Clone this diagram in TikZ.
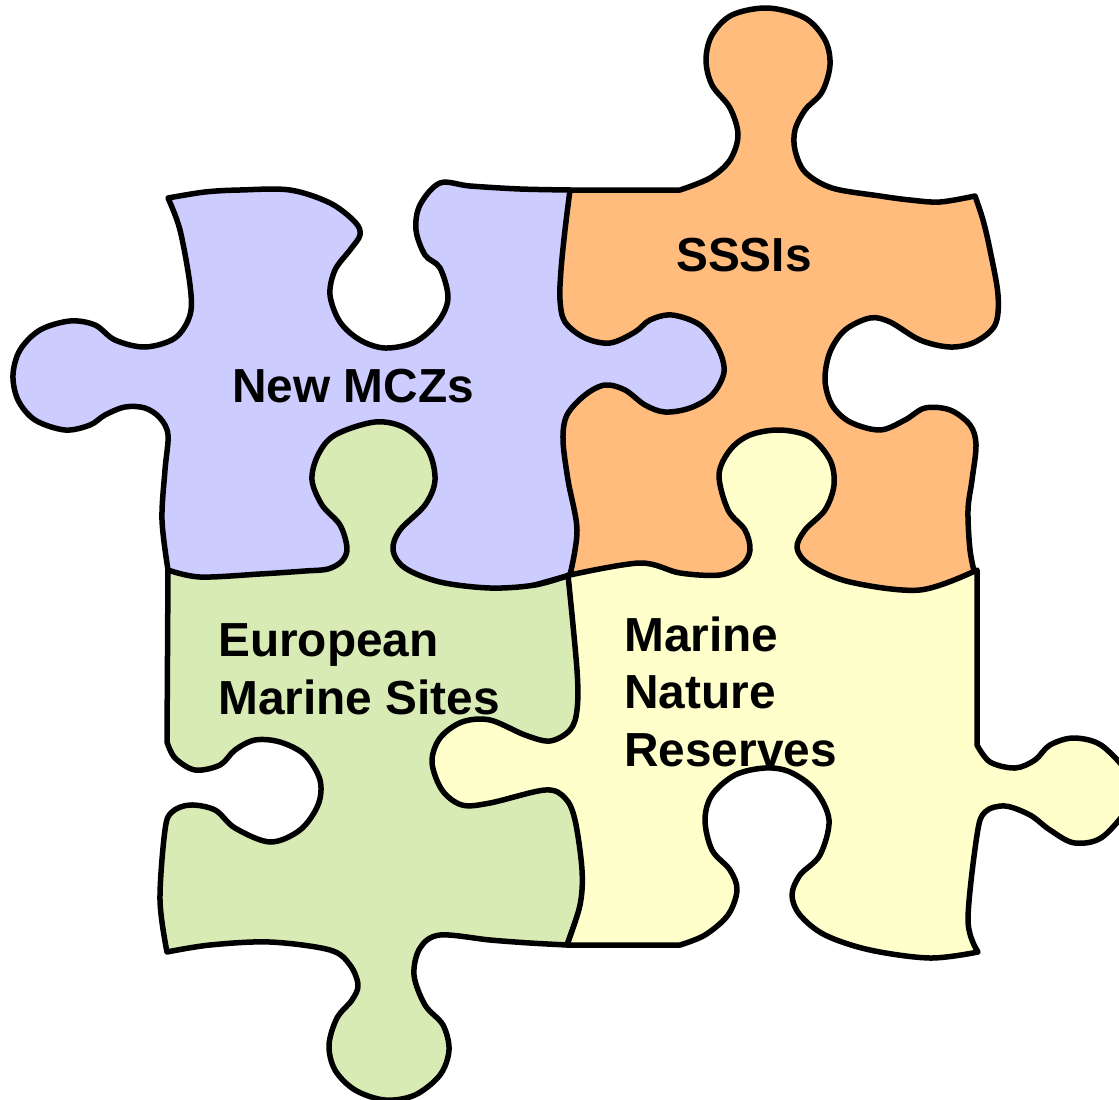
\documentclass[tikz,border=0pt]{standalone}
\usepackage{fontspec}
\setmainfont{Liberation Sans}
\definecolor{pOrange}{HTML}{FFBC7D}
\definecolor{pPurple}{HTML}{CCCCFF}
\definecolor{pGreen}{HTML}{D9EBB5}
\definecolor{pYellow}{HTML}{FFFFCC}
\tikzset{
  piece/.style={draw=black,line width=5.5pt,line join=round,line cap=round},
  lab/.style={anchor=base west,inner sep=0pt,font=\fontsize{47.8}{57}\selectfont\bfseries,text=black},
  sm/.style={smooth,tension=0.55}
}
\begin{document}
\begin{tikzpicture}[x=1pt,y=-1pt]
\useasboundingbox (0,0) rectangle (1119,1100);
\clip (0,0) rectangle (1119,1100);
% orange
\path[piece,fill=pOrange] (570,190) -- plot[sm] coordinates {(680,190)(710,178)(730,160)(738,135)(730,108)(712,85)(706,60)(712,35)(732,15)(768,8)(805,18)(825,40)(830,65)(822,92)(805,110)(795,130)(795,150)(805,172)(832,188)(880,196)(910,200)(940,202)(975,196)}
 -- plot[sm] coordinates {(975,196)(983,220)(990,250)(998,295)(995,325)(975,342)(950,347)(920,340)(890,322)(870,318)(845,330)(830,352)(825,380)(832,405)(850,422)(880,430)(905,420)(925,408)(950,410)(970,425)(976,445)(972,480)(968,510)(970,550)(975,575)}
 -- (920,600) -- (545,600) -- (545,300) -- cycle;
% purple
\path[piece,fill=pPurple] plot[sm] coordinates {(168,198)(205,192)(240,190)(290,190)(330,203)(355,222)(360,235)(350,250)(335,270)(330,295)(340,322)(360,340)(385,348)(415,342)(438,322)(448,298)(440,268)(425,255)(416,230)(420,205)(440,183)(470,186)(520,189)(570,190)}
 -- plot[sm] coordinates {(570,190)(565,230)(561,270)(560,300)(565,322)(585,338)(610,343)(635,332)(650,320)(672,315)(700,325)(718,348)(724,372)(712,395)(690,408)(665,412)(645,405)(625,390)(605,385)(585,395)(567,415)(563,440)(568,480)(577,530)(570,575)}
 -- (500,595) -- (190,590) -- (168,570)
 -- plot[sm] coordinates {(168,570)(162,520)(165,470)(168,435)(160,418)(145,408)(125,407)(105,415)(90,425)(65,430)(35,420)(18,400)(13,375)(20,350)(40,330)(70,321)(95,325)(115,340)(145,347)(175,338)(190,315)(190,285)(180,230)(168,198)} -- cycle;
% green
\path[piece,fill=pGreen] plot[sm] coordinates {(168,570)(200,577)(260,574)(305,571)(328,569)(342,561)(347,548)(340,525)(322,505)(312,480)(318,455)(335,435)(375,422)(405,428)(428,450)(435,480)(425,505)(400,530)(393,550)(405,568)(440,582)(490,588)(535,585)(570,575)}
 -- (590,700) -- (590,880)
 -- plot[sm] coordinates {(567,945)(530,943)(490,940)(440,935)(420,948)(414,975)(425,1005)(443,1025)(449,1050)(440,1075)(415,1095)(385,1100)(355,1090)(335,1070)(329,1045)(337,1018)(352,1000)(358,985)(350,965)(330,950)(270,942)(210,945)(167,952)}
 -- plot[sm] coordinates {(167,952)(160,900)(165,830)(172,812)(190,805)(215,810)(235,828)(270,842)(300,830)(318,805)(320,780)(305,755)(280,742)(255,740)(235,750)(220,765)(195,770)(175,758)(167,742)} -- cycle;
% yellow
\path[piece,fill=pYellow] plot[sm] coordinates {(570,575)(640,563)(680,573)(720,575)(742,565)(750,550)(745,530)(728,510)(719,475)(730,450)(750,435)(780,430)(810,437)(830,460)(834,485)(825,510)(805,530)(797,548)(810,565)(850,582)(920,590)(977,570)}
 -- (977,745)
 -- plot[sm] coordinates {(977,745)(990,762)(1015,768)(1035,760)(1050,745)(1075,738)(1105,748)(1135,790)(1105,835)(1075,843)(1050,830)(1030,815)(1005,806)(985,812)(977,835)(968,920)(978,952)}
 -- plot[sm] coordinates {(978,952)(930,958)(870,950)(825,935)(800,915)(792,895)(800,875)(820,855)(829,820)(815,790)(790,772)(765,768)(735,775)(712,795)(705,820)(712,850)(730,870)(737,890)(728,915)(705,935)(680,945)}
 -- (567,945)
 -- plot[sm] coordinates {(567,945)(580,905)(582,870)(575,820)(565,798)(545,790)(490,803)(462,805)(442,790)(432,762)(440,738)(462,722)(490,720)(525,735)(550,741)(570,730)(577,710)(577,670)(568,575)} -- cycle;
\node[lab] (mcz) at (232,402) {New MCZs};
\node[lab] (sssi) at (676,271) {SSSIs};
\node[lab] (eur) at (218,656) {European};
\node[lab] (ems) at (218,714) {Marine Sites};
\node[lab] (mar) at (624,651) {Marine};
\node[lab] (nat) at (624,708) {Nature};
\node[lab] (res) at (624,766) {Reserves};
\end{tikzpicture}
\end{document}
